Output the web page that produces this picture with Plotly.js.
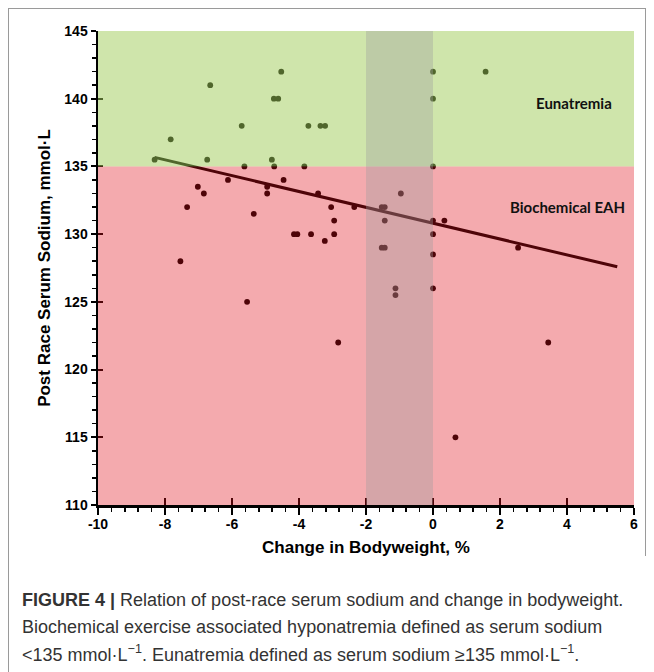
<!DOCTYPE html>
<html>
<head>
<meta charset="utf-8">
<script src="https://cdn.plot.ly/plotly-3.0.1.min.js"></script>
<style>
  html, body { margin: 0; padding: 0; background: #fff; }
  #chart { width: 654px; height: 672px; }
  .frame { position: absolute; background: #9a9a9a; }
</style>
</head>
<body>
<div id="chart"></div>
<div class="frame" style="left:8px; top:8px; width:1px; height:664px;"></div>
<div class="frame" style="left:8px; top:8px; width:638px; height:1px;"></div>
<div class="frame" style="left:645px; top:8px; width:1px; height:548px;"></div>
<script>
// Change in bodyweight (%) and post-race serum sodium (mmol/L)
const bodyweightChange = [
  -6.65, -5.71, -7.83, -8.31, -6.74, -5.63, -4.81, -4.53, -4.75, -4.62,
  -3.72, -3.36, -3.22, -4.74, -3.84, 0, 0, 0, 1.57,
  -6.12, -7.02, -6.84, -4.95, -4.95, -7.34, -5.35, -7.54, -5.55, -4.46,
  -3.43, -0.96, -3.04, -2.35, -1.53, -1.44, -2.95, -1.44, 0, -4.15,
  -4.05, -3.64, -2.95, 0, -3.23, -1.53, -1.44, 0, -1.12, -1.12,
  0, 0.34, 2.54, -2.83, 3.44, 0.67
];
const serumSodium = [
  141, 138, 137, 135.5, 135.5, 135, 135.5, 142, 140, 140,
  138, 138, 138, 135, 135, 142, 140, 135, 142,
  134, 133.5, 133, 133.5, 133, 132, 131.5, 128, 125, 134,
  133, 133, 132, 132, 132, 132, 131, 131, 131, 130,
  130, 130, 130, 130, 129.5, 129, 129, 128.5, 126, 125.5,
  126, 131, 129, 122, 122, 115
];
// Linear trend line endpoints
const trendX = [-8.31, 5.5];
const trendY = [135.67, 127.59];

// Tick labels
const xTickVals = [-10, -8, -6, -4, -2, 0, 2, 4, 6];
const xTickText = ['-10', '-8', '-6', '-4', '-2', '0', '2', '4', '6'];
const yTickVals = [110, 115, 120, 125, 130, 135, 140, 145];
const yTickText = ['110', '115', '120', '125', '130', '135', '140', '145'];

// Zones
const eunatremiaRange = [135, 145];
const eahRange = [110, 135];
const bandX = [-2, 0];
const xRange = [-10, 6];
const yRange = [110, 145];
const zoneLabels = ["Eunatremia", "Biochemical EAH"];
const zoneLabelX = [4.2, 4.0];
const zoneLabelY = [139.7, 132.0];

const traces = [
  {
    x: bodyweightChange, y: serumSodium,
    type: 'scatter', mode: 'markers',
    marker: { color: '#000000', size: 5.8 },
    showlegend: false, hoverinfo: 'x+y'
  },
  {
    x: trendX, y: trendY,
    type: 'scatter', mode: 'lines',
    line: { color: '#000000', width: 3 },
    showlegend: false, hoverinfo: 'skip'
  },
  {
    x: [null], y: [null], xaxis: 'x2', yaxis: 'y2',
    type: 'scatter', mode: 'markers', showlegend: false, hoverinfo: 'skip'
  }
];

const tickFont = { family: 'Liberation Sans, Arial, sans-serif', size: 14, color: '#000', weight: 'bold' };
const titleFont = { family: 'Liberation Sans, Arial, sans-serif', size: 17, color: '#000', weight: 'bold' };
const capFont = { family: 'Liberation Sans, Arial, sans-serif', size: 18, color: '#333' };

const layout = {
  width: 654, height: 672,
  margin: { l: 98, r: 20, t: 31, b: 167 },
  paper_bgcolor: '#ffffff', plot_bgcolor: '#ffffff',
  showlegend: false,
  xaxis: {
    range: xRange, tickmode: 'array', tickvals: xTickVals, ticktext: xTickText,
    showgrid: false, zeroline: false,
    showline: true, linecolor: '#000', linewidth: 2.5,
    ticks: 'outside', ticklen: 7, tickwidth: 2, tickcolor: '#000',
    ticklabelstandoff: -2,
    minor: { dtick: 0.4, tick0: -10, ticks: 'outside', ticklen: 4, tickwidth: 1.5, tickcolor: '#000', showgrid: false },
    tickfont: tickFont,
    title: { text: 'Change in Bodyweight, %', font: titleFont, standoff: 10 }
  },
  yaxis: {
    range: yRange, tickmode: 'array', tickvals: yTickVals, ticktext: yTickText,
    showgrid: false, zeroline: false,
    showline: true, linecolor: '#000', linewidth: 2.5,
    ticks: 'outside', ticklen: 5, tickwidth: 2, tickcolor: '#000',
    minor: { dtick: 1, tick0: 110, ticks: 'outside', ticklen: 4, tickwidth: 1.5, tickcolor: '#000', showgrid: false },
    tickfont: tickFont,
    title: { text: 'Post Race Serum Sodium, mmol·L', font: titleFont, standoff: 10 }
  },
  xaxis2: {
    overlaying: 'x', matches: 'x', anchor: 'y2', range: xRange,
    tickmode: 'array', tickvals: xTickVals,
    showgrid: false, zeroline: false, showline: false, showticklabels: false,
    ticks: 'inside', ticklen: 7, tickwidth: 2, tickcolor: '#000'
  },
  yaxis2: {
    overlaying: 'y', matches: 'y', anchor: 'x2', range: yRange,
    tickmode: 'array', tickvals: yTickVals,
    showgrid: false, zeroline: false, showline: false, showticklabels: false,
    ticks: 'inside', ticklen: 5, tickwidth: 2, tickcolor: '#000'
  },
  shapes: [
    { type: 'rect', xref: 'x', yref: 'y', layer: 'above',
      x0: xRange[0], x1: xRange[1], y0: eunatremiaRange[0], y1: eunatremiaRange[1],
      fillcolor: 'rgb(159,203,87)', opacity: 0.5, line: { width: 0 } },
    { type: 'rect', xref: 'x', yref: 'y', layer: 'above',
      x0: xRange[0], x1: xRange[1], y0: eahRange[0], y1: eahRange[1],
      fillcolor: 'rgb(224,12,22)', opacity: 0.35, line: { width: 0 } },
    { type: 'rect', xref: 'x', yref: 'y', layer: 'above',
      x0: bandX[0], x1: bandX[1], y0: yRange[0], y1: yRange[1],
      fillcolor: 'rgb(158,158,158)', opacity: 0.36, line: { width: 0 } }
  ],
  annotations: [
    { x: zoneLabelX[0], y: zoneLabelY[0], xref: 'x', yref: 'y', text: zoneLabels[0], showarrow: false,
      font: { family: 'Lato, Carlito, sans-serif', size: 15, color: '#111', weight: 'bold' } },
    { x: zoneLabelX[1], y: zoneLabelY[1], xref: 'x', yref: 'y', text: zoneLabels[1], showarrow: false,
      font: { family: 'Lato, Carlito, sans-serif', size: 15, color: '#111', weight: 'bold' } },
    { xref: 'paper', yref: 'paper', x: -0.1455, y: -0.2004, xanchor: 'left', yanchor: 'middle', showarrow: false, align: 'left',
      text: '<b>FIGURE 4 |</b> Relation of post-race serum sodium and change in bodyweight.', font: capFont },
    { xref: 'paper', yref: 'paper', x: -0.1455, y: -0.2574, xanchor: 'left', yanchor: 'middle', showarrow: false, align: 'left',
      text: 'Biochemical exercise associated hyponatremia defined as serum sodium', font: capFont },
    { xref: 'paper', yref: 'paper', x: -0.1455, y: -0.3130, xanchor: 'left', yanchor: 'middle', showarrow: false, align: 'left',
      text: '&lt;135 mmol·L<sup>−1</sup>. Eunatremia defined as serum sodium ≥135 mmol·L<sup>−1</sup>.', font: capFont }
  ]
};

Plotly.newPlot('chart', traces, layout, { displayModeBar: false, staticPlot: true });
</script>
</body>
</html>
